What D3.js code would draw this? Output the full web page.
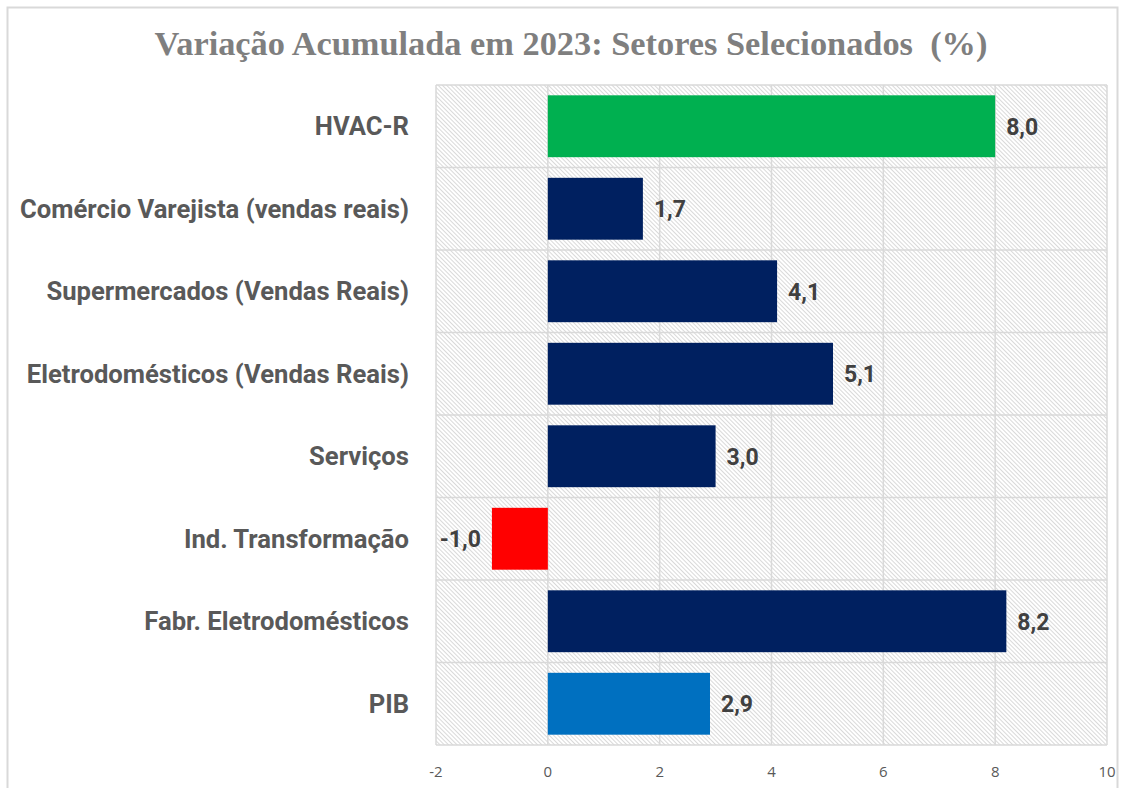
<!DOCTYPE html>
<html>
<head>
<meta charset="utf-8">
<script src="https://cdn.jsdelivr.net/npm/d3@7"></script>
<style>
  body { margin: 0; background: #fff; }
  svg { display: block; }
</style>
</head>
<body>
<div id="chart"></div>
<script>
var categories = ["HVAC-R", "Comércio Varejista (vendas reais)", "Supermercados (Vendas Reais)",
  "Eletrodomésticos (Vendas Reais)", "Serviços", "Ind. Transformação", "Fabr. Eletrodomésticos", "PIB"];
var values = [8.0, 1.7, 4.1, 5.1, 3.0, -1.0, 8.2, 2.9];
var barColors = ["#00b050", "#002060", "#002060", "#002060", "#002060", "#ff0000", "#002060", "#0070c0"];
var xTicks = [-2, 0, 2, 4, 6, 8, 10];

var width = 1126, height = 788;
var plot = { left: 436, right: 1107, top: 85, bottom: 745 };

var svg = d3.select("#chart").append("svg")
  .attr("width", width)
  .attr("height", height);

// hatch fill for the plot area
var defs = svg.append("defs");
var pat = defs.append("pattern")
  .attr("id", "hatch")
  .attr("patternUnits", "userSpaceOnUse")
  .attr("width", 3)
  .attr("height", 3)
  .attr("patternTransform", "rotate(-45)");
pat.append("rect").attr("width", 3).attr("height", 3).attr("fill", "#ffffff");
pat.append("line")
  .attr("x1", 0.5).attr("y1", 0).attr("x2", 0.5).attr("y2", 3)
  .attr("stroke", "#d9d9d9").attr("stroke-width", 1);

// outer chart border
svg.append("rect")
  .attr("x", 7.5).attr("y", 7.5)
  .attr("width", 1110).attr("height", 800)
  .attr("fill", "none")
  .attr("stroke", "#d9d9d9")
  .attr("stroke-width", 2);

var x = d3.scaleLinear().domain([-2, 10]).range([plot.left, plot.right]);
var y = d3.scaleBand().domain(categories).range([plot.top, plot.bottom]).paddingInner(0.25).paddingOuter(0.125);

svg.append("rect")
  .attr("x", plot.left).attr("y", plot.top)
  .attr("width", plot.right - plot.left).attr("height", plot.bottom - plot.top)
  .attr("fill", "url(#hatch)");

// gridlines
var step = y.step();
var rowEdges = d3.range(categories.length + 1).map(function(i){ return plot.top + i * step; });
svg.append("g").selectAll("line.h")
  .data(rowEdges)
  .enter().append("line")
  .attr("x1", plot.left).attr("x2", plot.right)
  .attr("y1", function(d){ return d; }).attr("y2", function(d){ return d; })
  .attr("stroke", "#d9d9d9").attr("stroke-width", 1.5);

svg.append("g").selectAll("line.v")
  .data(xTicks)
  .enter().append("line")
  .attr("x1", function(d){ return x(d); }).attr("x2", function(d){ return x(d); })
  .attr("y1", plot.top).attr("y2", plot.bottom)
  .attr("stroke", "#d9d9d9").attr("stroke-width", 1.5);

// bars
svg.append("g").selectAll("rect.bar")
  .data(values)
  .enter().append("rect")
  .attr("class", "bar")
  .attr("x", function(d){ return x(Math.min(0, d)); })
  .attr("y", function(d, i){ return y(categories[i]); })
  .attr("width", function(d){ return Math.abs(x(d) - x(0)); })
  .attr("height", y.bandwidth())
  .attr("fill", function(d, i){ return barColors[i]; });

// value labels
var fmt = function(d){ return d.toFixed(1).replace(".", ","); };
svg.append("g").selectAll("text.val")
  .data(values)
  .enter().append("text")
  .attr("x", function(d){ return d >= 0 ? x(d) + 11 : x(d) - 11; })
  .attr("y", function(d, i){ return y(categories[i]) + y.bandwidth() / 2; })
  .attr("dy", "0.36em")
  .attr("text-anchor", function(d){ return d >= 0 ? "start" : "end"; })
  .attr("font-family", "Roboto, 'Open Sans', sans-serif")
  .attr("font-weight", "bold")
  .attr("font-size", 23)
  .attr("fill", "#404040")
  .text(fmt);

// category labels
var catLabels = svg.append("g").selectAll("text.cat")
  .data(categories)
  .enter().append("text")
  .attr("x", 409)
  .attr("y", function(d){ return y(d) + y.bandwidth() / 2; })
  .attr("dy", "0.36em")
  .attr("text-anchor", "end")
  .attr("font-family", "Roboto, 'Open Sans', sans-serif")
  .attr("font-weight", "bold")
  .attr("font-size", 22)
  .attr("fill", "#595959")
  .text(function(d){ return d; });

// fit the longest label to the reference width
var longest = catLabels.filter(function(d, i){ return i === 1; }).node();
var w = longest.getComputedTextLength();
catLabels.attr("font-size", 22 * 389 / w);

// x axis tick labels
svg.append("g").selectAll("text.tick")
  .data(xTicks)
  .enter().append("text")
  .attr("x", function(d){ return x(d); })
  .attr("y", 777)
  .attr("text-anchor", "middle")
  .attr("font-family", "'Open Sans', sans-serif")
  .attr("font-size", 15)
  .attr("fill", "#595959")
  .text(function(d){ return d; });

// title
var title = svg.append("text")
  .attr("x", 571)
  .attr("y", 55)
  .attr("text-anchor", "middle")
  .attr("font-family", "'Liberation Serif', 'DejaVu Serif', serif")
  .attr("font-weight", "bold")
  .attr("font-size", 28)
  .attr("fill", "#7f7f7f")
  .attr("xml:space", "preserve")
  .text("Variação Acumulada em 2023: Setores Selecionados  (%)");
var tw = title.node().getComputedTextLength();
title.attr("font-size", 28 * 833 / tw);
</script>
</body>
</html>
